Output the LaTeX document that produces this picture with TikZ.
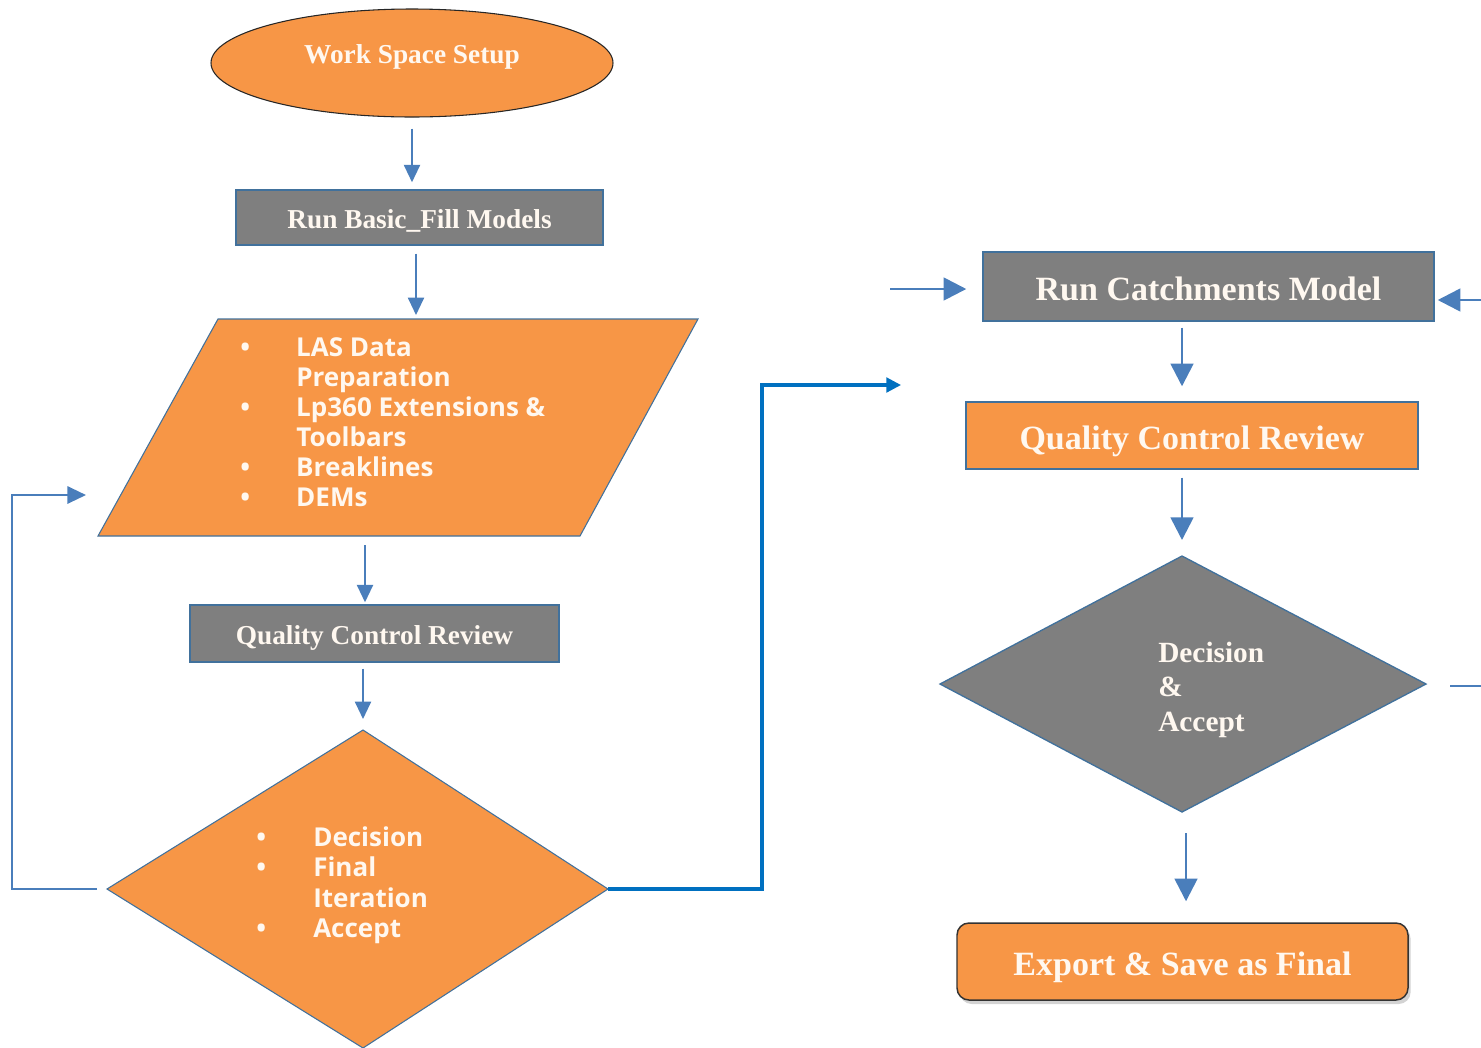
\documentclass[tikz,border=0pt]{standalone}
\usepackage{fontspec}
\setmainfont{Liberation Serif}
\setsansfont{Open Sans}
\usetikzlibrary{arrows.meta,shapes.geometric,shadows}
\definecolor{orng}{HTML}{F79646}
\definecolor{boxgray}{HTML}{7F7F7F}
\definecolor{bordblue}{HTML}{41719C}
\definecolor{arrblue}{HTML}{4A7EBB}
\definecolor{linkblue}{HTML}{0070C0}
\definecolor{textw}{HTML}{FFF8F0}
\newcommand\lowtxt[2]{\smash{\raisebox{-#1}{#2}}}
\begin{document}
\begin{tikzpicture}[x=0.75pt,y=-0.75pt,
  arr/.style={draw=arrblue, line width=1.5pt, -{Triangle[length=13pt,width=12pt]}},
  bigarr/.style={draw=arrblue, line width=2pt, -{Triangle[length=17pt,width=17pt]}},
  loopline/.style={draw=arrblue, line width=1.6pt, -{Triangle[length=14pt,width=13pt]}},
  linkline/.style={draw=linkblue, line width=2.3pt, -{Triangle[length=11pt,width=11pt]}},
  plainline/.style={draw=arrblue, line width=2pt},
  boxbase/.style={rectangle, draw=bordblue, line width=1.1pt, inner sep=0pt, text=textw},
  smallbox/.style={boxbase, font=\bfseries\fontsize{20.5}{24}\selectfont},
  bigbox/.style={boxbase, font=\bfseries\fontsize{25.5}{30}\selectfont},
  listtext/.style={anchor=base west, inner sep=0pt, text=textw, font=\sffamily\bfseries\fontsize{19.5}{22.5}\selectfont},
  shapeline/.style={draw=bordblue, line width=0.8pt}
]
\useasboundingbox (0,0) rectangle (1481,1047);

% ---------- left column ----------
\node[ellipse, fill=orng, draw=black!85, line width=0.8pt, minimum width=301.5pt, minimum height=81pt, inner sep=0pt] (ws) at (412,63) {};
\node[text=textw, inner sep=0pt, anchor=base, font=\bfseries\fontsize{20.5}{24}\selectfont] (wst) at (412,63) {Work Space Setup};

\node[smallbox, fill=boxgray, minimum width=275.25pt, minimum height=41.25pt] (rb) at (419.5,217.5) {\lowtxt{7.9pt}{Run Basic\_Fill Models}};

\path[fill=orng, shapeline] (218,319) -- (698,319) -- (580,536) -- (98,536) -- cycle;
\coordinate (pt) at (416,319);
\coordinate (pb) at (365,536);
\node[listtext] (lst1) at (240,356) {\begin{tabular}[t]{@{}l@{}l@{}}
\makebox[42pt][l]{•}&LAS Data\\
&Preparation\\
\makebox[42pt][l]{•}&Lp360 Extensions \&\\
&Toolbars\\
\makebox[42pt][l]{•}&Breaklines\\
\makebox[42pt][l]{•}&DEMs
\end{tabular}};

\node[smallbox, fill=boxgray, minimum width=276.75pt, minimum height=42.75pt] (qc1) at (374.5,633.5) {\lowtxt{7.9pt}{Quality Control Review}};

\path[fill=orng, shapeline] (363,730) coordinate (d1t) -- (608,889) coordinate (d1r) -- (363,1048) coordinate (d1b) -- (107,889) coordinate (d1l) -- cycle;
\node[listtext, font=\sffamily\bfseries\fontsize{19.5}{22.9}\selectfont] (lst2) at (256,846) {\begin{tabular}[t]{@{}l@{}l@{}}
\makebox[42.75pt][l]{•}&Decision\\
\makebox[42.75pt][l]{•}&Final\\
&Iteration\\
\makebox[42.75pt][l]{•}&Accept
\end{tabular}};

% ---------- right column ----------
\node[bigbox, fill=boxgray, minimum width=338.25pt, minimum height=51.75pt] (rc) at (1208.5,286.5) {\lowtxt{10.6pt}{Run Catchments Model}};
\node[bigbox, fill=orng, minimum width=339pt, minimum height=50.25pt] (qc2) at (1192,435.5) {\lowtxt{10.6pt}{Quality Control Review}};

\path[fill=boxgray, shapeline, line width=1pt] (1182,556) coordinate (d2t) -- (1426,684) coordinate (d2r) -- (1182,812) coordinate (d2b) -- (940,684) coordinate (d2l) -- cycle;
\node[anchor=base west, inner sep=0pt, text=textw, font=\bfseries\fontsize{22}{26}\selectfont] (d2txt) at (1158,662) {\begin{tabular}[t]{@{}l@{}}Decision\\ \&\\ Accept\end{tabular}};

\node[rectangle, rounded corners=9pt, fill=orng, draw=black!80, line width=1.1pt, inner sep=0pt, text=textw,
  font=\bfseries\fontsize{25.5}{30}\selectfont, minimum width=338.25pt, minimum height=57.75pt,
  drop shadow={shadow xshift=2pt, shadow yshift=-3pt, opacity=0.35}] (ex) at (1182.5,961.5) {\lowtxt{10.4pt}{Export \& Save as Final}};

\coordinate (cin) at (890,289);
\coordinate (cin2) at (1481,300);
\coordinate (dout) at (1481,686);
\coordinate (lend) at (901,385);
\coordinate (fbend) at (86,495);

% ---------- connectors ----------
\draw[arr, shorten <=8.25pt, shorten >=5.25pt] (ws.south) -- (ws.south |- rb.north);
\draw[arr, shorten <=6pt, shorten >=3pt] (rb.south -| pt) -- (pt);
\draw[arr, shorten <=6.75pt, shorten >=1.5pt] (pb) -- (pb |- qc1.north);
\draw[arr, shorten <=4.5pt, shorten >=8.25pt] (qc1.south -| d1t) -- (d1t);
\draw[loopline, shorten <=7.5pt] (d1l) -- ++(-95,0) |- (fbend);
\draw[linkline] (d1r) -- ++(154,0) |- (lend);

\draw[bigarr, shorten >=12pt] (cin) -- (cin -| rc.west);
\draw[bigarr, shorten >=2.25pt] (cin2) -- (cin2 -| rc.east);
\draw[bigarr, shorten <=4.5pt, shorten >=11.25pt] (rc.south -| d2t) -- (qc2.north -| d2t);
\draw[bigarr, shorten <=6pt, shorten >=12pt] (qc2.south -| d2t) -- (d2t);
\draw[plainline, shorten <=18pt] (d2r |- dout) -- (dout);
\draw[bigarr, shorten <=15.75pt, shorten >=15.75pt] ([xshift=3pt]d2b) -- ([xshift=3pt]d2b |- ex.north);
\end{tikzpicture}
\end{document}
